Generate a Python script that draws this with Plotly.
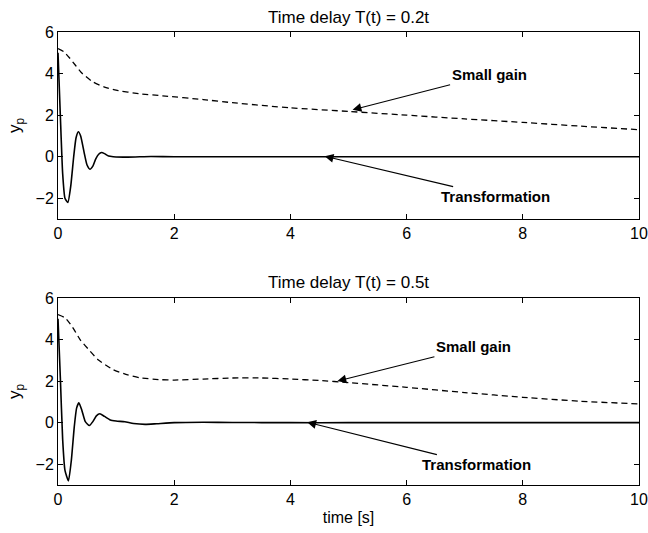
import plotly.graph_objects as go

# ---- data ----
t_tr1 = [0, 0.04, 0.08, 0.12, 0.17, 0.22, 0.27, 0.31, 0.35, 0.39, 0.45, 0.5, 0.55, 0.6, 0.65, 0.7, 0.75, 0.8, 0.87, 0.95, 1.2, 1.6, 2, 3, 4, 5, 6, 7, 8, 9, 10]
y_tr1 = [5.0, 2.0, -0.8, -2.0, -2.2, -1.4, 0.0, 0.9, 1.2, 1.0, 0.2, -0.4, -0.6, -0.45, -0.1, 0.12, 0.2, 0.15, 0.03, 0.0, -0.02, 0.01, 0, 0, 0, 0, 0, 0, 0, 0, 0]

t_sg1 = [0, 0.1, 0.2, 0.3, 0.4, 0.6, 0.8, 1.0, 1.4, 1.8, 2.5, 3, 4, 5, 6, 7, 8, 9, 10]
y_sg1 = [5.2, 5.05, 4.75, 4.4, 4.05, 3.6, 3.35, 3.2, 3.03, 2.93, 2.75, 2.6, 2.35, 2.18, 2.0, 1.82, 1.65, 1.47, 1.3]

t_tr2 = [0, 0.04, 0.08, 0.12, 0.18, 0.23, 0.28, 0.32, 0.36, 0.41, 0.47, 0.54, 0.6, 0.66, 0.72, 0.8, 0.9, 1.0, 1.15, 1.3, 1.5, 1.7, 2.0, 2.5, 3, 4, 5, 6, 7, 8, 9, 10]
y_tr2 = [5.0, 2.2, -0.8, -2.3, -2.8, -1.8, -0.2, 0.7, 0.96, 0.6, 0.05, -0.14, 0.05, 0.33, 0.43, 0.3, 0.13, 0.08, 0.04, -0.04, -0.08, -0.05, 0.0, 0.02, 0.01, 0, 0, 0, 0, 0, 0, 0]

t_sg2 = [0, 0.12, 0.25, 0.38, 0.55, 0.69, 0.95, 1.2, 1.41, 1.76, 2, 2.5, 3, 3.5, 4, 4.5, 5, 6, 7, 8, 9, 10]
y_sg2 = [5.2, 5.05, 4.6, 4.0, 3.45, 3.03, 2.55, 2.3, 2.16, 2.07, 2.05, 2.1, 2.15, 2.15, 2.1, 2.03, 1.93, 1.7, 1.45, 1.22, 1.03, 0.9]

x_ticks = [0, 2, 4, 6, 8, 10]
y_ticks = [-2, 0, 2, 4, 6]
y_ticktext = ["\u22122", "0", "2", "4", "6"]
titles = ["Time delay T(t) = 0.2t", "Time delay T(t) = 0.5t"]

FONT = "Liberation Sans"

fig = go.Figure()
solid = dict(color="black", width=1.6)
dashed = dict(color="black", width=1.3, dash="6px,4px")

fig.add_trace(go.Scatter(x=t_tr1, y=y_tr1, mode="lines", line=dict(**solid, shape="spline", smoothing=0.5), xaxis="x", yaxis="y"))
fig.add_trace(go.Scatter(x=t_sg1, y=y_sg1, mode="lines", line=dict(**dashed, shape="spline", smoothing=0.5), xaxis="x", yaxis="y"))
fig.add_trace(go.Scatter(x=t_tr2, y=y_tr2, mode="lines", line=dict(**solid, shape="spline", smoothing=0.5), xaxis="x2", yaxis="y2"))
fig.add_trace(go.Scatter(x=t_sg2, y=y_sg2, mode="lines", line=dict(**dashed, shape="spline", smoothing=0.5), xaxis="x2", yaxis="y2"))

axcommon = dict(showline=True, linecolor="black", linewidth=1, mirror="ticks", ticks="inside",
                ticklen=5, tickcolor="black", showgrid=False, zeroline=False, automargin=False,
                ticklabeloverflow="allow",
                tickfont=dict(family=FONT, size=16, color="black"))

ytitle = dict(text="y<sub>p</sub>", font=dict(family=FONT, size=17, color="black"), standoff=10)

# full-window figure (page body margin removed below)
fig.update_layout(
    width=648, height=533,
    margin=dict(l=58, r=9, t=32, b=48),
    paper_bgcolor="white", plot_bgcolor="white",
    showlegend=False,
    xaxis=dict(domain=[0, 1], range=[0, 10], tickvals=x_ticks, anchor="y", **axcommon),
    yaxis=dict(domain=[0.587, 1], range=[-3, 6], tickvals=y_ticks, ticktext=y_ticktext, anchor="x",
               title=ytitle, **axcommon),
    xaxis2=dict(domain=[0, 1], range=[0, 10], tickvals=x_ticks, anchor="y2",
                title=dict(text="time [s]", font=dict(family=FONT, size=16, color="black"), standoff=4),
                **axcommon),
    yaxis2=dict(domain=[0, 0.4128], range=[-3, 6], tickvals=y_ticks, ticktext=y_ticktext, anchor="x2",
                title=ytitle, **axcommon),
)

# titles
fig.add_annotation(text=titles[0], xref="paper", yref="paper", x=0.5, y=1.0, yshift=3,
                   yanchor="bottom", showarrow=False, font=dict(family=FONT, size=17, color="black"))
fig.add_annotation(text=titles[1], xref="paper", yref="paper", x=0.5, y=0.4128, yshift=4,
                   yanchor="bottom", showarrow=False, font=dict(family=FONT, size=17, color="black"))

# arrow annotations
arr = dict(showarrow=True, arrowhead=2, arrowsize=1.6, arrowwidth=1.1, arrowcolor="black",
           font=dict(family=FONT, size=15, color="black"))
fig.add_annotation(text="<b>Small gain</b>", x=5.07, y=2.26, ax=7.42, ay=3.94, xref="x", yref="y", axref="x", ayref="y", **arr)
fig.add_annotation(text="<b>Transformation</b>", x=4.59, y=0.02, ax=7.53, ay=-1.92, xref="x", yref="y", axref="x", ayref="y", **arr)
fig.add_annotation(text="<b>Small gain</b>", x=4.81, y=2.0, ax=7.15, ay=3.65, xref="x2", yref="y2", axref="x2", ayref="y2", **arr)
fig.add_annotation(text="<b>Transformation</b>", x=4.29, y=0.02, ax=7.21, ay=-2.02, xref="x2", yref="y2", axref="x2", ayref="y2", **arr)

fig.write_html("out.html", config={"displayModeBar": False},
               post_script="document.body.style.margin='0px';")
